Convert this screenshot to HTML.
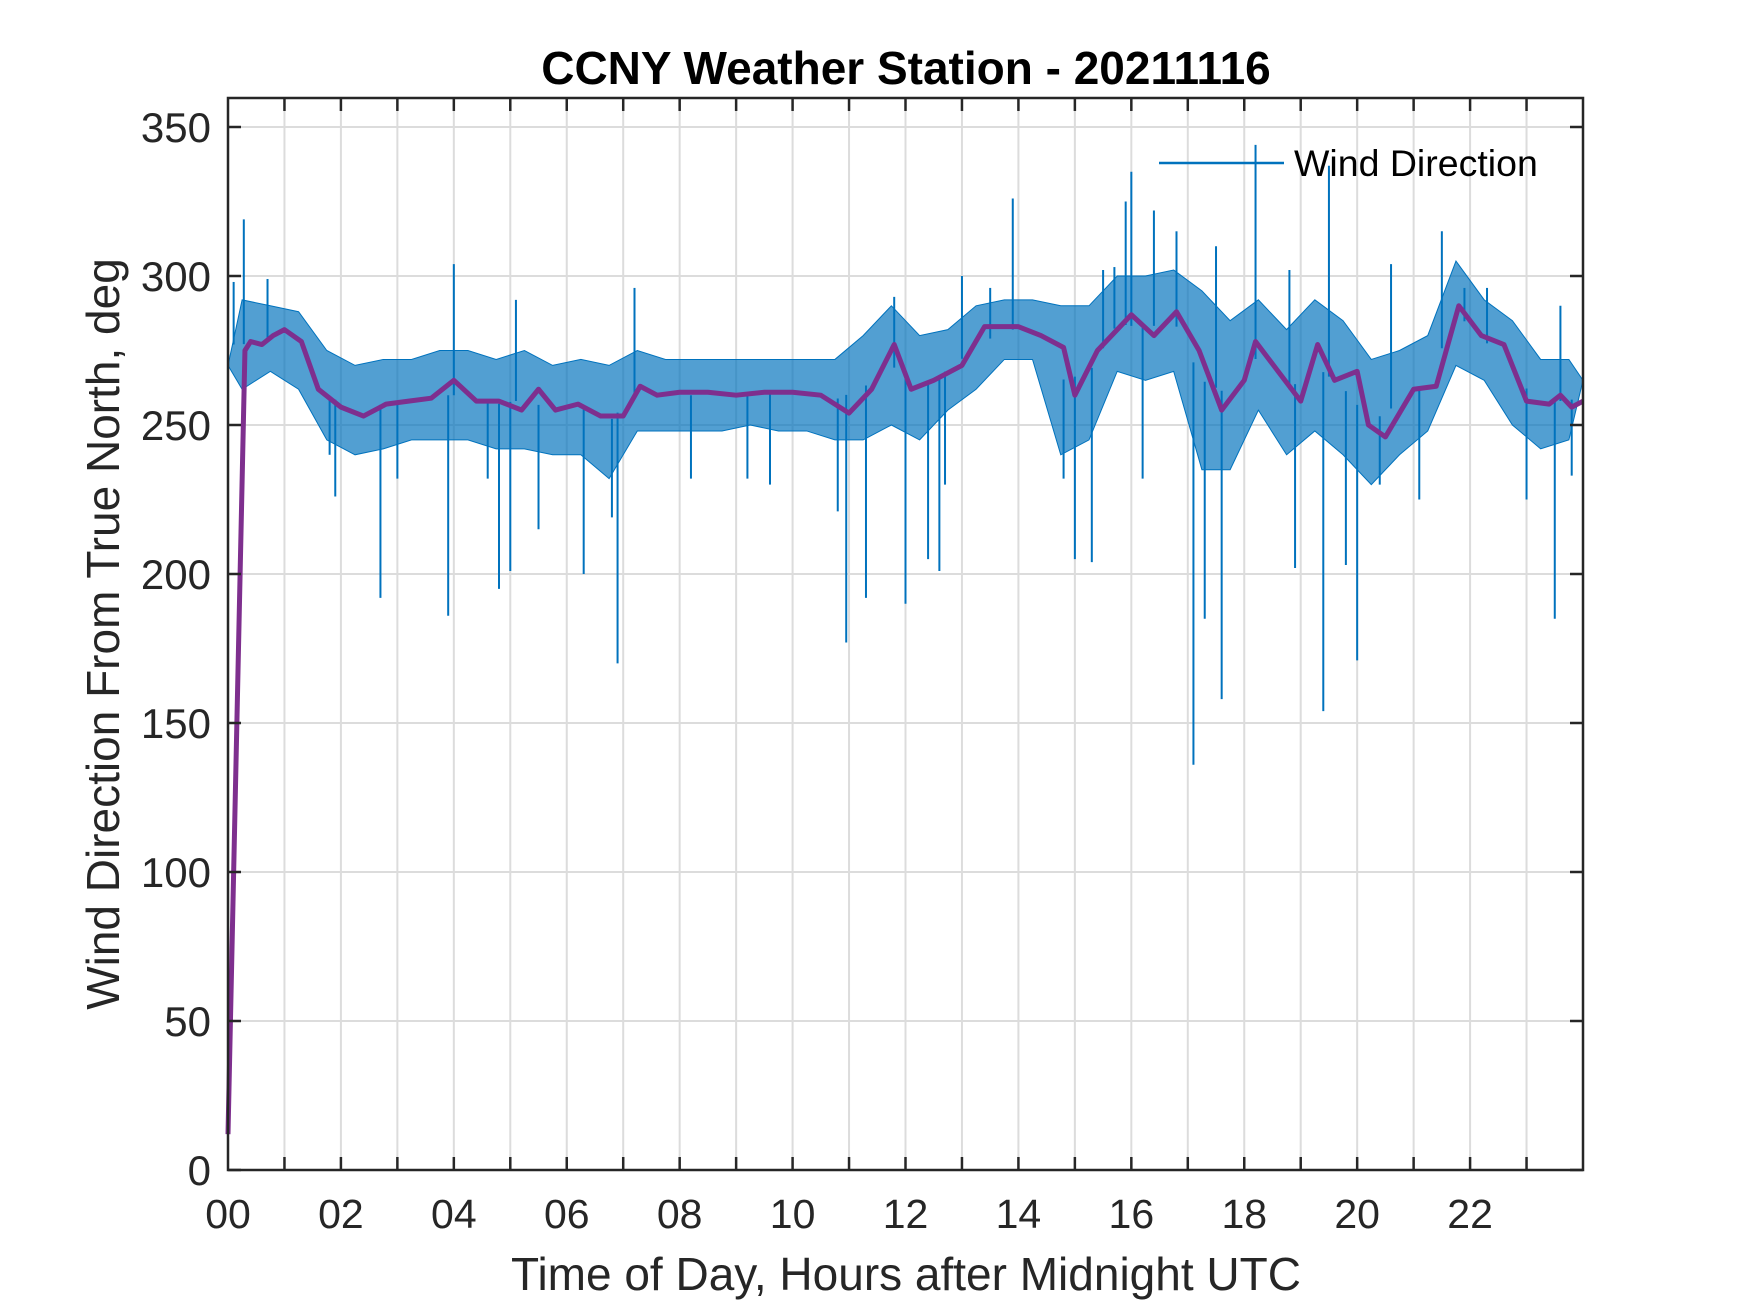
<!DOCTYPE html>
<html><head><meta charset="utf-8"><style>
html,body{margin:0;padding:0;background:#fff;}
svg{display:block;font-family:"Liberation Sans",Arial,sans-serif;}
</style></head><body>
<svg id="chart" width="1750" height="1313" viewBox="0 0 1750 1313">
<rect width="1750" height="1313" fill="#fff"/>
<g id="grid"></g>
<g id="band"></g>
<g id="avg"></g>
<g id="axes"></g>
<text x="906" y="84" text-anchor="middle" font-size="46" font-weight="bold" fill="#000">CCNY Weather Station - 20211116</text>
<text x="906" y="1290" text-anchor="middle" font-size="46" fill="#262626">Time of Day, Hours after Midnight UTC</text>
<text transform="translate(119,634) rotate(-90)" text-anchor="middle" font-size="46" fill="#262626">Wind Direction From True North, deg</text>
<g>
<line x1="1159" y1="163" x2="1284" y2="163" stroke="#0072BD" stroke-width="2.5"/>
<text x="1294" y="176" font-size="37.5" fill="#000">Wind Direction</text>
</g>
</svg>
<script>
const bandHours=[0.25,0.75,1.25,1.75,2.25,2.75,3.25,3.75,4.25,4.75,5.25,5.75,6.25,6.75,7.25,7.75,8.25,8.75,9.25,9.75,10.25,10.75,11.25,11.75,12.25,12.75,13.25,13.75,14.25,14.75,15.25,15.75,16.25,16.75,17.25,17.75,18.25,18.75,19.25,19.75,20.25,20.75,21.25,21.75,22.25,22.75,23.25,23.75];
const bandHigh=[292,290,288,275,270,272,272,275,275,272,275,270,272,270,275,272,272,272,272,272,272,272,280,290,280,282,290,292,292,290,290,300,300,302,295,285,292,282,292,285,272,275,280,305,292,285,272,272];
const bandLow=[262,268,262,245,240,242,245,245,245,242,242,240,240,232,248,248,248,248,250,248,248,245,245,250,245,255,262,272,272,240,245,268,265,268,235,235,255,240,248,240,230,240,248,270,265,250,242,245];
const spikeHours=[0.1,0.28,0.7,1.8,1.9,2.7,3.0,3.9,4.0,4.6,4.8,5.0,5.1,5.5,6.3,6.8,6.9,7.2,8.2,9.2,9.6,10.8,10.95,11.3,11.8,12.0,12.4,12.6,12.7,13.0,13.5,13.9,14.8,15.0,15.3,15.5,15.7,15.9,16.0,16.2,16.4,16.8,17.1,17.3,17.5,17.6,18.2,18.8,18.9,19.4,19.5,19.8,20.0,20.4,20.6,21.1,21.5,21.9,22.3,23.0,23.5,23.6,23.8];
const spikeValues=[298,319,299,240,226,192,232,186,304,232,195,201,292,215,200,219,170,296,232,232,230,221,177,192,293,190,205,201,230,300,296,326,232,205,204,302,303,325,335,232,322,315,136,185,310,158,344,302,202,154,337,203,171,230,304,225,315,296,296,225,185,290,233];
const avgHours=[0,0.1,0.3,0.4,0.6,0.8,1.0,1.3,1.6,2.0,2.4,2.8,3.2,3.6,4.0,4.4,4.8,5.2,5.5,5.8,6.2,6.6,7.0,7.3,7.6,8.0,8.5,9.0,9.5,10.0,10.5,11.0,11.4,11.8,12.1,12.5,13.0,13.4,14.0,14.4,14.8,15.0,15.4,16.0,16.4,16.8,17.2,17.6,18.0,18.2,18.6,19.0,19.3,19.6,20.0,20.2,20.5,21.0,21.4,21.8,22.2,22.6,23.0,23.4,23.6,23.8,24];
const avgValues=[12,100,275,278,277,280,282,278,262,256,253,257,258,259,265,258,258,255,262,255,257,253,253,263,260,261,261,260,261,261,260,254,262,277,262,265,270,283,283,280,276,260,275,287,280,288,275,255,265,278,268,258,277,265,268,250,246,262,263,290,280,277,258,257,260,256,258];
const xTickHours=[0,2,4,6,8,10,12,14,16,18,20,22];
const xTickLabels=["00","02","04","06","08","10","12","14","16","18","20","22"];
const yTickValues=[0,50,100,150,200,250,300,350];

const X0=228,X1=1583,Y0=1170,YT=98;
const xs=h=>X0+h*(X1-X0)/24;
const ys=v=>Y0-v*(Y0-127)/350;
const NS="http://www.w3.org/2000/svg";
function mk(tag,attrs,parent){const e=document.createElementNS(NS,tag);for(const k in attrs)e.setAttribute(k,attrs[k]);parent.appendChild(e);return e;}
const grid=document.getElementById('grid'),band=document.getElementById('band'),avg=document.getElementById('avg'),axes=document.getElementById('axes');
for(let h=1;h<24;h++){const l=mk('line',{x1:xs(h),x2:xs(h),y1:YT,y2:Y0,stroke:'#dcdcdc','stroke-width':2},grid);

}
yTickValues.forEach(v=>{if(v===0)return;const l=mk('line',{x1:X0,x2:X1,y1:ys(v),y2:ys(v),stroke:'#dcdcdc','stroke-width':2},grid);

});
let pts=[];
pts.push([xs(0),ys(270)]);
bandHours.forEach((h,i)=>pts.push([xs(h),ys(bandHigh[i])]));
pts.push([xs(24),ys(265)]);
for(let i=bandHours.length-1;i>=0;i--)pts.push([xs(bandHours[i]),ys(bandLow[i])]);
const poly=mk('polygon',{points:pts.map(p=>p.join(',')).join(' '),fill:'#0072BD','fill-opacity':0.68,stroke:'#0072BD','stroke-width':1},band);


function interp(h,arrH,arrV){for(let i=0;i<arrH.length-1;i++){if(h>=arrH[i]&&h<=arrH[i+1]){const t=(h-arrH[i])/(arrH[i+1]-arrH[i]);return arrV[i]+t*(arrV[i+1]-arrV[i]);}}return arrV[arrV.length-1];}
spikeHours.forEach((h,i)=>{
 const hh=Math.min(Math.max(h,0.25),23.75);
 const mid=(interp(hh,bandHours,bandHigh)+interp(hh,bandHours,bandLow))/2;
 const l=mk('line',{x1:xs(h),x2:xs(h),y1:ys(mid),y2:ys(spikeValues[i]),stroke:'#0072BD','stroke-width':2},band);
 
 
});
const pl=mk('polyline',{points:avgHours.map((h,i)=>xs(h)+','+ys(avgValues[i])).join(' '),fill:'none',stroke:'#7E2F8E','stroke-width':5,'stroke-linejoin':'round'},avg);


const box=mk('rect',{x:X0,y:YT,width:X1-X0,height:Y0-YT,fill:'none',stroke:'#262626','stroke-width':2.5},axes);


for(let h=1;h<24;h++){
 mk('line',{x1:xs(h),x2:xs(h),y1:Y0,y2:Y0-13,stroke:'#262626','stroke-width':2.5},axes);
 mk('line',{x1:xs(h),x2:xs(h),y1:YT,y2:YT+13,stroke:'#262626','stroke-width':2.5},axes);
}
xTickHours.forEach((h,i)=>{const t=mk('text',{x:xs(h),y:1228,'text-anchor':'middle','font-size':41,fill:'#262626'},axes);t.textContent=xTickLabels[i];

});
yTickValues.forEach(v=>{
 mk('line',{x1:X0,x2:X0+13,y1:ys(v),y2:ys(v),stroke:'#262626','stroke-width':2.5},axes);
 mk('line',{x1:X1,x2:X1-13,y1:ys(v),y2:ys(v),stroke:'#262626','stroke-width':2.5},axes);
 const t=mk('text',{x:211,y:ys(v)+15,'text-anchor':'end','font-size':42,fill:'#262626'},axes);t.textContent=v;
 
 
});
</script>
</body></html>
